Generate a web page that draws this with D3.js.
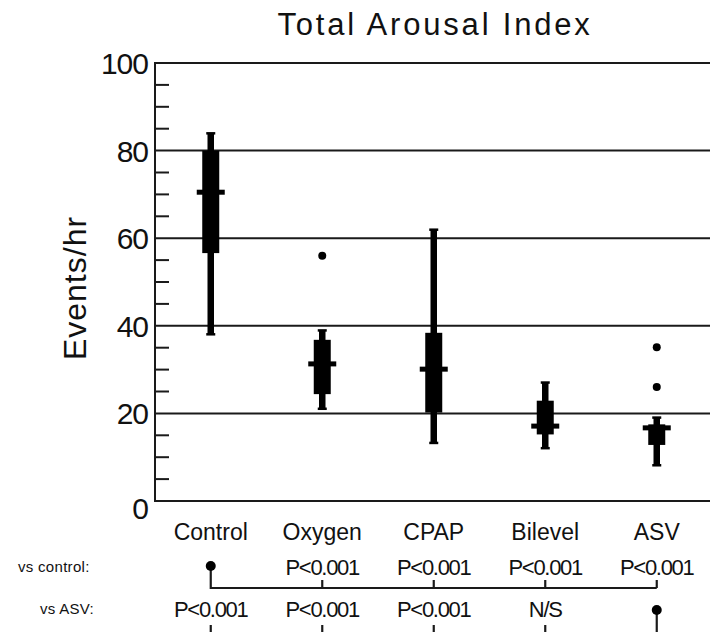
<!DOCTYPE html>
<html>
<head>
<meta charset="utf-8">
<script src="https://cdn.jsdelivr.net/npm/d3@7"></script>
<style>
  body { margin: 0; background: #fff; }
  text { font-family: "Liberation Sans", Arial, sans-serif; fill: #111; }
</style>
</head>
<body>
<svg id="chart" width="710" height="632"></svg>
<script>
// values
let groups = ["Control", "Oxygen", "CPAP", "Bilevel", "ASV"];
let whisker_lo = [38, 21, 13.2, 12, 8.1];
let q1 = [56.6, 24.4, 20.2, 15.2, 12.8];
let median = [70.5, 31.3, 30.1, 17.1, 16.7];
let q3 = [80, 36.8, 38.4, 22.9, 17.5];
let whisker_hi = [84, 39, 62, 27.1, 19.1];
let outliers = [[], [56], [], [], [35.1, 26]];
let y_ticks = [0, 20, 40, 60, 80, 100];
let vs_control = [null, "P<0.001", "P<0.001", "P<0.001", "P<0.001"];
let vs_asv = ["P<0.001", "P<0.001", "P<0.001", "N/S", null];

let svg = d3.select("#chart");
let plot_left = 155, plot_right = 712.5, plot_top = 63, plot_bottom = 501;

let x = d3.scaleBand().domain(groups).range([plot_left, plot_right]);
let y = d3.scaleLinear().domain([0, 100]).range([plot_bottom, plot_top]);
let cx = g => x(g) + x.bandwidth() / 2;

// title
svg.append("text").attr("x", 435).attr("y", 35)
  .attr("text-anchor", "middle").style("font-size", "31px").style("letter-spacing", "2.8px")
  .text("Total Arousal Index");

// y axis title
svg.append("text").attr("transform", "translate(86,288) rotate(-90)")
  .attr("text-anchor", "middle").style("font-size", "32px").style("letter-spacing", "1px")
  .text("Events/hr");

// grid lines (0..100)
svg.selectAll(".grid").data(y_ticks).enter().append("line").attr("class", "grid")
  .attr("x1", plot_left).attr("x2", plot_right)
  .attr("y1", d => y(d)).attr("y2", d => y(d))
  .attr("stroke", "#1a1a1a").attr("stroke-width", 2);

// left axis line
svg.append("line").attr("x1", plot_left).attr("x2", plot_left).attr("y1", plot_top - 1).attr("y2", plot_bottom + 1)
  .attr("stroke", "#1a1a1a").attr("stroke-width", 2);

// minor ticks every 5
let minor = d3.range(5, 100, 5).filter(d => d % 20 != 0);
svg.selectAll(".minor").data(minor).enter().append("line").attr("class", "minor")
  .attr("x1", plot_left).attr("x2", plot_left + 14)
  .attr("y1", d => y(d)).attr("y2", d => y(d))
  .attr("stroke", "#1a1a1a").attr("stroke-width", 2);

// y tick labels
svg.selectAll(".ylab").data(y_ticks).enter().append("text").attr("class", "ylab")
  .attr("x", 148).attr("y", d => y(d) + 11 + (d == 0 ? 7 : 0))
  .attr("text-anchor", "end").style("font-size", "30px").style("letter-spacing", "-1px")
  .text(d => d);

// boxes
let box_w = 17, med_w = 28, wh_w = 6.5, cap_w = 9;
let boxes = svg.selectAll(".box").data(groups).enter().append("g").attr("class", "box");

boxes.append("rect")
  .attr("x", g => cx(g) - wh_w / 2).attr("width", wh_w)
  .attr("y", (g, i) => y(whisker_hi[i])).attr("height", (g, i) => y(whisker_lo[i]) - y(whisker_hi[i]))
  .attr("fill", "#000");
boxes.append("rect")
  .attr("x", g => cx(g) - cap_w / 2).attr("width", cap_w)
  .attr("y", (g, i) => y(whisker_hi[i]) - 1).attr("height", 2.5).attr("fill", "#000");
boxes.append("rect")
  .attr("x", g => cx(g) - cap_w / 2).attr("width", cap_w)
  .attr("y", (g, i) => y(whisker_lo[i]) - 1.5).attr("height", 2.5).attr("fill", "#000");
boxes.append("rect")
  .attr("x", g => cx(g) - box_w / 2).attr("width", box_w)
  .attr("y", (g, i) => y(q3[i])).attr("height", (g, i) => y(q1[i]) - y(q3[i]))
  .attr("fill", "#000");
boxes.append("rect")
  .attr("x", g => cx(g) - med_w / 2).attr("width", med_w)
  .attr("y", (g, i) => y(median[i]) - 2.5).attr("height", 5)
  .attr("fill", "#000");

boxes.each(function(g, i){
  d3.select(this).selectAll(".out").data(outliers[i]).enter().append("circle").attr("class", "out")
    .attr("cx", cx(g)).attr("cy", d => y(d)).attr("r", 4).attr("fill", "#000");
});

// category labels
svg.selectAll(".cat").data(groups).enter().append("text").attr("class", "cat")
  .attr("x", g => cx(g)).attr("y", 540)
  .attr("text-anchor", "middle").style("font-size", "23px")
  .text(g => g);

// comparison rows
function comparison_row(labels, label_text, label_x, text_y, dot_y, line_y){
  svg.append("text").attr("x", label_x).attr("y", text_y - 3)
    .style("font-size", "15px").style("letter-spacing", "0.3px").text(label_text);
  let ref = groups[labels.indexOf(null)];
  svg.append("line").attr("x1", cx(groups[0])).attr("x2", cx(groups[groups.length - 1]))
    .attr("y1", line_y).attr("y2", line_y).attr("stroke", "#1a1a1a").attr("stroke-width", 2.2);
  svg.append("line").attr("x1", cx(ref)).attr("x2", cx(ref)).attr("y1", dot_y).attr("y2", line_y + 1)
    .attr("stroke", "#1a1a1a").attr("stroke-width", 2.2);
  svg.append("circle").attr("cx", cx(ref)).attr("cy", dot_y).attr("r", 5).attr("fill", "#000");
  groups.forEach((g, i) => {
    if(labels[i] == null) return;
    svg.append("text").attr("x", cx(g)).attr("y", text_y)
      .attr("text-anchor", "middle").style("font-size", "22px").style("letter-spacing", "-1.3px")
      .text(labels[i]);
    svg.append("line").attr("x1", cx(g)).attr("x2", cx(g)).attr("y1", line_y - 8).attr("y2", line_y)
      .attr("stroke", "#1a1a1a").attr("stroke-width", 2.2);
  });
}
comparison_row(vs_control, "vs control:", 18, 575, 566, 588);
comparison_row(vs_asv, "vs ASV:", 40, 617, 610, 633);
</script>
</body>
</html>
